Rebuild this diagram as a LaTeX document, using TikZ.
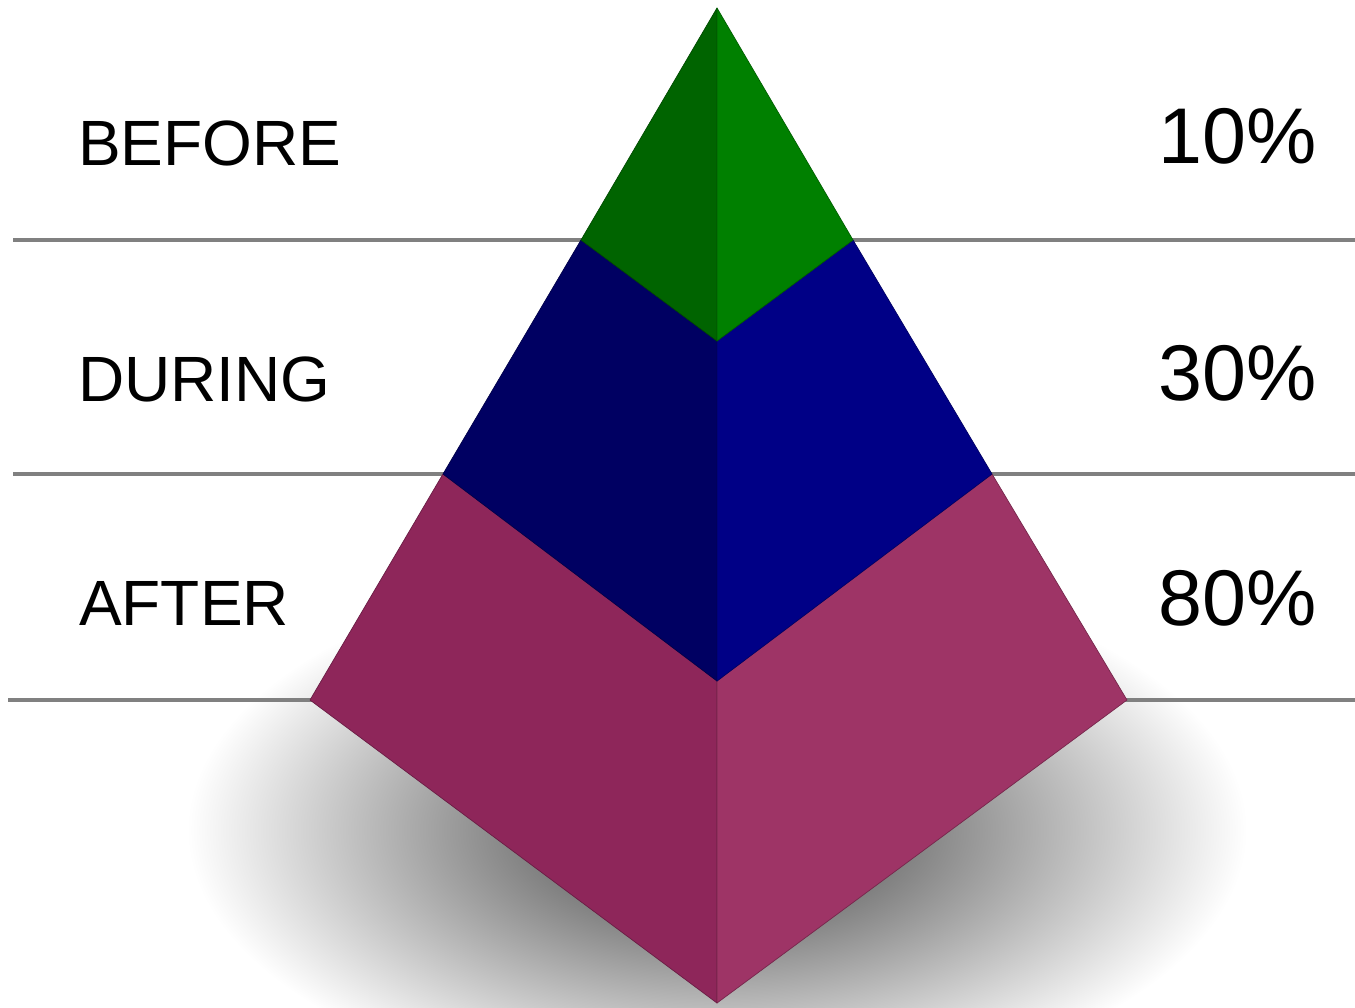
\documentclass[tikz,border=0pt]{standalone}
\usepackage{fontspec}
\setmainfont{Liberation Sans}
\definecolor{gleft}{RGB}{0,100,0}
\definecolor{gright}{RGB}{0,128,0}
\definecolor{bleft}{RGB}{0,0,98}
\definecolor{bright}{RGB}{0,0,134}
\definecolor{mleft}{RGB}{142,38,90}
\definecolor{mright}{RGB}{158,52,102}
\definecolor{rule}{RGB}{128,128,128}
\pgfdeclareradialshading{shadowshade}{\pgfpoint{0bp}{0bp}}{color(0bp)=(black!52); color(9bp)=(black!50); color(25bp)=(white); color(50bp)=(white)}
\tikzset{
  ruleline/.style={draw=rule, line width=4pt},
  face/.style={line width=0.7pt, line join=round},
  label/.style={inner sep=0pt, anchor=base west, font=\fontsize{64}{72}\selectfont},
  pct/.style={inner sep=0pt, anchor=base east, font=\fontsize{79}{88}\selectfont},
}
\begin{document}
\begin{tikzpicture}[x=1pt,y=-1pt]
\clip (0,0) rectangle (1355,1007);
\fill[white] (0,0) rectangle (1355,1007);
% key points
\coordinate (A) at (717,8);
\coordinate (L1) at (581,240);
\coordinate (R1) at (853,240);
\coordinate (C1) at (717,341);
\coordinate (L2) at (443,474);
\coordinate (R2) at (992,474);
\coordinate (C2) at (717,681);
\coordinate (L3) at (310,700);
\coordinate (R3) at (1127,700);
\coordinate (C3) at (717,1003);
% line ends
\coordinate (a1) at (13,240); \coordinate (b1) at (1360,240);
\coordinate (a2) at (13,474); \coordinate (b2) at (1360,474);
\coordinate (a3) at (8,700);  \coordinate (b3) at (1360,700);
% shadow
\shade[shading=shadowshade] (717,830) ellipse [x radius=530, y radius=270];
% rules
\draw[ruleline] (a1) -- (b1);
\draw[ruleline] (a2) -- (b2);
\draw[ruleline] (a3) -- (b3);
% magenta
\filldraw[face, fill=mleft, draw=mleft!75!black] (L2) -- (C2) -- (C3) -- (L3) -- cycle;
\filldraw[face, fill=mright, draw=mright!75!black] (R2) -- (C2) -- (C3) -- (R3) -- cycle;
% blue
\filldraw[face, fill=bleft, draw=bleft!75!black] (L1) -- (C1) -- (C2) -- (L2) -- cycle;
\filldraw[face, fill=bright, draw=bright!75!black] (R1) -- (C1) -- (C2) -- (R2) -- cycle;
% green
\filldraw[face, fill=gleft, draw=gleft!75!black] (A) -- (C1) -- (L1) -- cycle;
\filldraw[face, fill=gright, draw=gright!75!black] (A) -- (C1) -- (R1) -- cycle;
% labels
\node[label] (before) at (78,165) {BEFORE};
\node[label] (during) at (78,401) {DURING};
\node[label] (after) at (79,625) {AFTER};
\node[pct] (p10) at (1317,163) {10\%};
\node[pct] (p30) at (1317,400) {30\%};
\node[pct] (p80) at (1317,625) {80\%};
\end{tikzpicture}
\end{document}
